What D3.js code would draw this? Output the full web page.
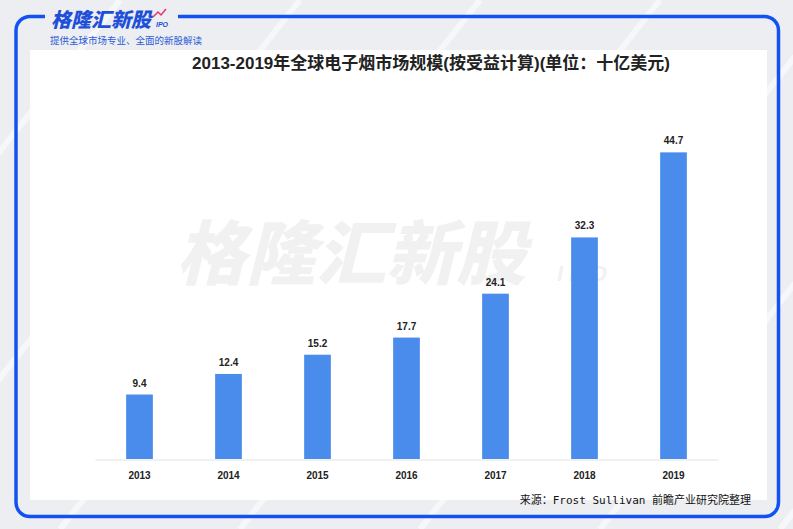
<!DOCTYPE html>
<html>
<head>
<meta charset="utf-8">
<script src="https://cdn.jsdelivr.net/npm/d3@7"></script>
<style>
  html, body { margin: 0; padding: 0; background: #eef0f3; }
  svg { display: block; }
</style>
</head>
<body>
<script>
// 数据
const years = ["2013", "2014", "2015", "2016", "2017", "2018", "2019"];
const values = [9.4, 12.4, 15.2, 17.7, 24.1, 32.3, 44.7];
const title = "2013-2019年全球电子烟市场规模(按受益计算)(单位：十亿美元)";
const source = "来源：Frost Sullivan 前瞻产业研究院整理";

const w = 793;
const h = 529;
const blue = "#1352f2";

const svg = d3.select("body").append("svg").attr("width", w).attr("height", h);

// 背景
svg.append("rect").attr("width", w).attr("height", h).attr("fill", "#eceef1");
const streaks = [-300, -120, 60, 240, 420, 600, 780, 960];
svg.selectAll("line.streak")
  .data(streaks)
  .enter()
  .append("line")
  .attr("x1", d => d)
  .attr("y1", h)
  .attr("x2", d => d + 420)
  .attr("y2", 0)
  .attr("stroke", "#ffffff")
  .attr("stroke-width", 6)
  .attr("opacity", 0.55);

// 白色区域
svg.append("rect")
  .attr("x", 30).attr("y", 50)
  .attr("width", 737).attr("height", 450)
  .attr("fill", "#ffffff");

// 蓝色边框
const r = 14;
const frame = d3.path();
frame.moveTo(45, 16.5);
frame.lineTo(16 + r, 16.5);
frame.arcTo(16, 16.5, 16, 16.5 + r, r);
frame.lineTo(16, 516.5 - r);
frame.arcTo(16, 516.5, 16 + r, 516.5, r);
frame.lineTo(778.5 - r, 516.5);
frame.arcTo(778.5, 516.5, 778.5, 516.5 - r, r);
frame.lineTo(778.5, 16.5 + r);
frame.arcTo(778.5, 16.5, 778.5 - r, 16.5, r);
frame.lineTo(178, 16.5);
svg.append("path")
  .attr("d", frame.toString())
  .attr("fill", "none")
  .attr("stroke", blue)
  .attr("stroke-width", 3.5);

// 标志
svg.append("text")
  .attr("x", 51).attr("y", 27)
  .attr("font-family", "Noto Sans CJK SC")
  .attr("font-weight", "900")
  .attr("font-style", "italic")
  .attr("font-size", "20px")
  .attr("fill", "#1d4fd9")
  .text("格隆汇新股");
svg.append("path")
  .attr("d", "M153,17 L158,12 L161,15 L166,9")
  .attr("fill", "none")
  .attr("stroke", "#e8356a")
  .attr("stroke-width", 1.5);
svg.append("text")
  .attr("x", 156).attr("y", 27)
  .attr("font-family", "Liberation Sans")
  .attr("font-weight", "bold")
  .attr("font-style", "italic")
  .attr("font-size", "7px")
  .attr("fill", "#1d4fd9")
  .text("IPO");
svg.append("text")
  .attr("x", 50).attr("y", 44)
  .attr("font-family", "Noto Sans CJK SC")
  .attr("font-size", "9.5px")
  .attr("fill", "#2a5ad8")
  .text("提供全球市场专业、全面的新股解读");

// 水印
svg.append("text")
  .attr("x", 176).attr("y", 279)
  .attr("font-family", "Noto Sans CJK SC")
  .attr("font-weight", "900")
  .attr("font-style", "italic")
  .attr("font-size", "70px")
  .attr("fill", "#f1f1f1")
  .text("格隆汇新股");
svg.append("text")
  .attr("x", 557).attr("y", 281)
  .attr("font-family", "Liberation Sans")
  .attr("font-weight", "bold")
  .attr("font-style", "italic")
  .attr("font-size", "22px")
  .attr("letter-spacing", "6px")
  .attr("fill", "#f1f1f1")
  .text("IPO");

// 标题
svg.append("text")
  .attr("x", 431).attr("y", 69)
  .attr("text-anchor", "middle")
  .attr("font-family", "Liberation Sans, Noto Sans CJK SC")
  .attr("font-weight", "bold")
  .attr("font-size", "17px")
  .attr("fill", "#222222")
  .text(title);

// 比例尺
const x = d3.scaleBand()
  .domain(years)
  .range([95, 718])
  .paddingInner(0.7)
  .paddingOuter(0.35);
const y = d3.scaleLinear().domain([0, 50]).range([459, 116]);

// 柱子
svg.selectAll("rect.bar")
  .data(values)
  .enter()
  .append("rect")
  .attr("class", "bar")
  .attr("x", (d, i) => x(years[i]))
  .attr("y", d => y(d))
  .attr("width", x.bandwidth())
  .attr("height", d => y(0) - y(d))
  .attr("fill", "#4a8ceb");

// 数值标签
svg.selectAll("text.val")
  .data(values)
  .enter()
  .append("text")
  .attr("class", "val")
  .attr("x", (d, i) => x(years[i]) + x.bandwidth() / 2)
  .attr("y", d => y(d) - 8)
  .attr("text-anchor", "middle")
  .attr("font-family", "Liberation Sans")
  .attr("font-weight", "bold")
  .attr("font-size", "10px")
  .attr("fill", "#222222")
  .text(d => d.toFixed(1));

// X 轴
const xAxis = svg.append("g")
  .attr("transform", "translate(0," + (y(0) + 0.5) + ")")
  .call(d3.axisBottom(x).tickSize(0).tickPadding(12));
xAxis.select(".domain").attr("stroke", "#e2e2e2");
xAxis.selectAll("text")
  .attr("font-family", "Liberation Sans")
  .attr("font-weight", "bold")
  .attr("font-size", "10px")
  .attr("fill", "#222222");

// 来源
svg.append("text")
  .attr("x", 751).attr("y", 504)
  .attr("text-anchor", "end")
  .attr("font-family", "DejaVu Sans Mono, Noto Sans CJK SC")
  .attr("font-size", "11px")
  .attr("fill", "#111111")
  .text(source);
</script>
</body>
</html>
